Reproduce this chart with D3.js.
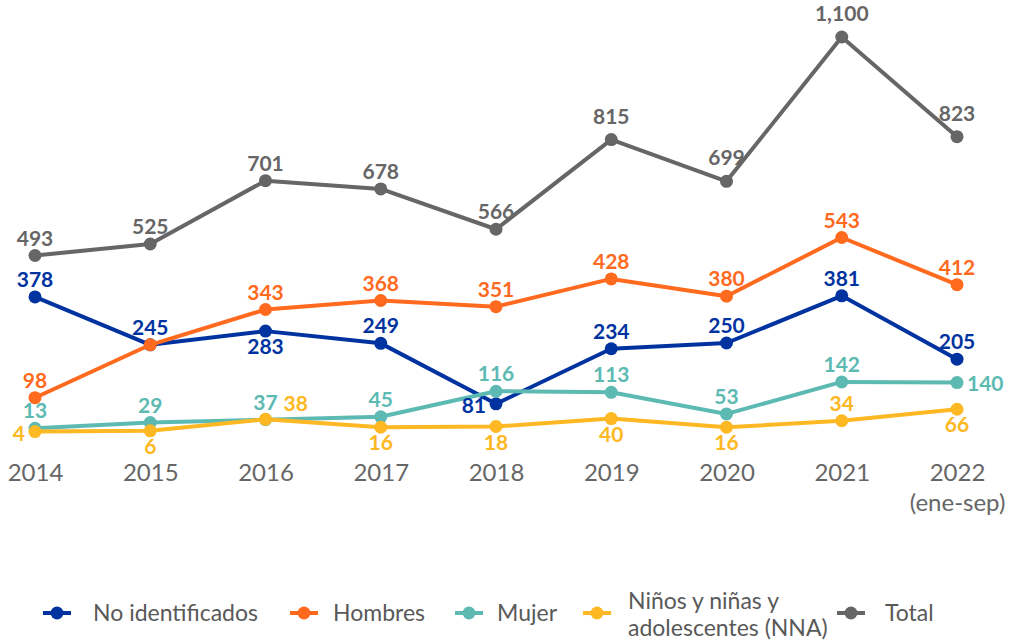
<!DOCTYPE html>
<html>
<head>
<meta charset="utf-8">
<script src="https://cdn.jsdelivr.net/npm/d3@7"></script>
<style>
  body { margin: 0; background: #fff; }
  text { font-family: Lato, "Open Sans", sans-serif; }
  .lbl { font-weight: 700; font-size: 21px; }
  .axis text { font-size: 24px; fill: #666; }
  .legend text { font-size: 23px; fill: #595959; }
</style>
</head>
<body>
<script>
// data
const years = ["2014", "2015", "2016", "2017", "2018", "2019", "2020", "2021", "2022"];
const yearNotes = ["", "", "", "", "", "", "", "", "(ene-sep)"];

const noIdentificados = [378, 245, 283, 249, 81, 234, 250, 381, 205];
const hombres = [98, 245, 343, 368, 351, 428, 380, 543, 412];
const mujer = [13, 29, 37, 45, 116, 113, 53, 142, 140];
const nna = [4, 6, 38, 16, 18, 40, 16, 34, 66];
const total = [493, 525, 701, 678, 566, 815, 699, 1100, 823];

// where each value label sits (null = hidden behind another label)
const posNoIdent = ["above", "above", "below", "above", "left", "above", "above", "above", "above"];
const posHombres = ["above", null, "above", "above", "above", "above", "above", "above", "above"];
const posMujer = ["above", "above", "above", "above", "above", "above", "above", "above", "right"];
const posNna = ["left", "below", "upright", "below", "below", "below", "below", "above", "below"];
const posTotal = ["above", "above", "above", "above", "above", "high", "high", "high", "high"];

const series = [
  { name: "No identificados", values: noIdentificados, pos: posNoIdent, color: "#0033a0" },
  { name: "Hombres", values: hombres, pos: posHombres, color: "#ff6a1f" },
  { name: "Mujer", values: mujer, pos: posMujer, color: "#5dbab2" },
  { name: "Niños y niñas y|adolescentes (NNA)", values: nna, pos: posNna, color: "#fdb823" },
  { name: "Total", values: total, pos: posTotal, color: "#666666" }
];

const width = 1011, height = 642;

const svg = d3.select("body").append("svg")
  .attr("width", width)
  .attr("height", height);

const x = d3.scalePoint().domain(years).range([35, 957]);
const y = d3.scaleLinear().domain([0, 1100]).range([433, 37]);
const fmt = d3.format(",");

// x axis
const axis = svg.append("g")
  .attr("class", "axis")
  .attr("transform", "translate(0,463)")
  .call(d3.axisBottom(x).tickSize(0).tickPadding(1));
axis.select(".domain").remove();
axis.selectAll(".tick text")
  .each(function(d, i) {
    const note = yearNotes[i];
    if (note) {
      d3.select(this).append("tspan")
        .attr("x", 0).attr("dy", "1.25em")
        .text(note);
    }
  });

const line = d3.line()
  .x((d, i) => x(years[i]))
  .y(d => y(d));

const offsets = {
  above: { dx: 0, dy: -10, anchor: "middle" },
  high: { dx: 0, dy: -16, anchor: "middle" },
  below: { dx: 0, dy: 23, anchor: "middle" },
  left: { dx: -10, dy: 9, anchor: "end" },
  right: { dx: 10, dy: 8, anchor: "start" },
  upright: { dx: 18, dy: -8, anchor: "start" }
};

series.forEach(s => {
  const g = svg.append("g");
  g.append("path")
    .datum(s.values)
    .attr("fill", "none")
    .attr("stroke", s.color)
    .attr("stroke-width", 4)
    .attr("stroke-linejoin", "round")
    .attr("d", line);

  g.selectAll("circle")
    .data(s.values).enter()
    .append("circle")
    .attr("cx", (d, i) => x(years[i]))
    .attr("cy", d => y(d))
    .attr("r", 6.5)
    .attr("fill", s.color);
});

// labels on top of all lines
series.forEach(s => {
  svg.append("g").selectAll("text")
    .data(s.values.map((v, i) => ({ v, i, p: s.pos[i] })).filter(d => d.p))
    .enter().append("text")
    .attr("class", "lbl")
    .attr("fill", s.color)
    .attr("x", d => x(years[d.i]) + offsets[d.p].dx)
    .attr("y", d => y(d.v) + offsets[d.p].dy)
    .attr("text-anchor", d => offsets[d.p].anchor)
    .text(d => fmt(d.v));
});

// legend
const legendX = [43, 290, 455, 583, 837];
const legendText = [93, 333, 497, 628, 885];
const legend = svg.append("g").attr("class", "legend");
series.forEach((s, i) => {
  const lg = legend.append("g").attr("transform", `translate(${legendX[i]},613)`);
  lg.append("line")
    .attr("x1", 0).attr("x2", 28)
    .attr("stroke", s.color).attr("stroke-width", 4);
  lg.append("circle").attr("cx", 14).attr("r", 6.5).attr("fill", s.color);
  const parts = s.name.split("|");
  const t = lg.append("text");
  parts.forEach((p, j) => {
    t.append("tspan")
      .attr("x", legendText[i] - legendX[i])
      .attr("y", parts.length > 1 ? (j === 0 ? -4 : 23) : 8)
      .text(p);
  });
});
</script>
</body>
</html>
